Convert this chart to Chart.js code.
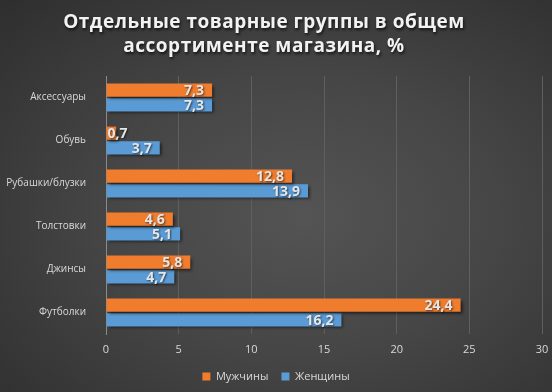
<!DOCTYPE html>
<html>
<head>
<meta charset="utf-8">
<script src="https://cdn.jsdelivr.net/npm/chart.js@4"></script>
<style>
  html, body { margin: 0; padding: 0; }
  #wrap {
    width: 552px; height: 392px; position: relative;
    background: radial-gradient(ellipse at 55% 55%, #545454 0%, #464646 45%, #2e2e2e 100%);
  }
</style>
</head>
<body>
<div id="wrap"><canvas id="chart" width="552" height="392"></canvas></div>
<script>
const titleLines = ['Отдельные товарные группы в общем', 'ассортименте магазина, %'];
const categories = ['Аксессуары', 'Обувь', 'Рубашки/блузки', 'Толстовки', 'Джинсы', 'Футболки'];
const men = [7.3, 0.7, 12.8, 4.6, 5.8, 24.4];
const women = [7.3, 3.7, 13.9, 5.1, 4.7, 16.2];
const seriesNames = ['Мужчины', 'Женщины'];
const xTicks = { min: 0, max: 30, step: 5 };

const FONT = '"Open Sans", "DejaVu Sans", sans-serif';
const TXT = '#d9d9d9';

// title drawn by hand so it can have letter spacing + shadow
const titlePlugin = {
  id: 'titleDraw',
  afterDraw(chart) {
    const ctx = chart.ctx;
    ctx.save();
    ctx.font = 'bold 19px ' + FONT;
    ctx.letterSpacing = '0.5px';
    ctx.fillStyle = '#f2f2f2';
    ctx.textAlign = 'center';
    ctx.textBaseline = 'alphabetic';
    ctx.shadowColor = 'rgba(0,0,0,0.7)';
    ctx.shadowOffsetX = 1; ctx.shadowOffsetY = 2; ctx.shadowBlur = 3;
    ctx.fillText(titleLines[0], 264, 28);
    ctx.fillText(titleLines[1], 264, 52);
    ctx.restore();
  }
};

// dark drop shadow under bars
const barShadow = {
  id: 'barShadow',
  beforeDatasetsDraw(chart) {
    const ctx = chart.ctx;
    ctx.save();
    ctx.shadowColor = 'rgba(0,0,0,0.6)';
    ctx.shadowOffsetX = 2; ctx.shadowOffsetY = 2; ctx.shadowBlur = 3;
  },
  afterDatasetsDraw(chart) { chart.ctx.restore(); }
};

// value labels at the inner end of each bar
const valueLabels = {
  id: 'valueLabels',
  afterDatasetsDraw(chart) {
    const ctx = chart.ctx;
    ctx.save();
    ctx.font = 'bold 14px ' + FONT;
    ctx.fillStyle = '#e6e6e6';
    ctx.textBaseline = 'middle';
    ctx.textAlign = 'left';
    ctx.shadowColor = 'rgba(0,0,0,0.6)';
    ctx.shadowOffsetX = 1; ctx.shadowOffsetY = 1; ctx.shadowBlur = 2;
    chart.data.datasets.forEach((ds, i) => {
      chart.getDatasetMeta(i).data.forEach((bar, j) => {
        const s = ds.data[j].toFixed(1).replace('.', ',');
        const w = ctx.measureText(s).width;
        const x = Math.max(bar.x - 8 - w, bar.base + 1);
        ctx.fillText(s, x, bar.y + 1);
      });
    });
    ctx.restore();
  }
};

new Chart(document.getElementById('chart'), {
  type: 'bar',
  data: {
    labels: categories,
    datasets: [
      { label: seriesNames[0], data: men, backgroundColor: '#f07d2e', categoryPercentage: 0.68, barPercentage: 0.9 },
      { label: seriesNames[1], data: women, backgroundColor: '#5b9bd5', categoryPercentage: 0.68, barPercentage: 0.9 }
    ]
  },
  options: {
    indexAxis: 'y',
    responsive: false,
    animation: false,
    layout: { padding: { top: 76, right: 0, bottom: 0, left: 0 } },
    scales: {
      x: {
        min: xTicks.min, max: xTicks.max,
        ticks: { stepSize: xTicks.step, color: TXT, font: { family: FONT, size: 11 }, padding: 9 },
        grid: { color: '#5f5f5f', drawTicks: false },
        border: { display: false },
        afterFit(scale) { scale.height = 24; scale.paddingRight = 10; }
      },
      y: {
        ticks: { color: TXT, font: { family: FONT, size: 10 }, padding: 12 },
        grid: { display: false },
        border: { color: '#8a8a8a' },
        afterFit(scale) { scale.width = 106; }
      }
    },
    plugins: {
      legend: {
        position: 'bottom',
        labels: { color: TXT, font: { family: FONT, size: 11 }, boxWidth: 8, boxHeight: 8, padding: 13 }
      },
      tooltip: { enabled: false }
    }
  },
  plugins: [barShadow, valueLabels, titlePlugin]
});
</script>
</body>
</html>
